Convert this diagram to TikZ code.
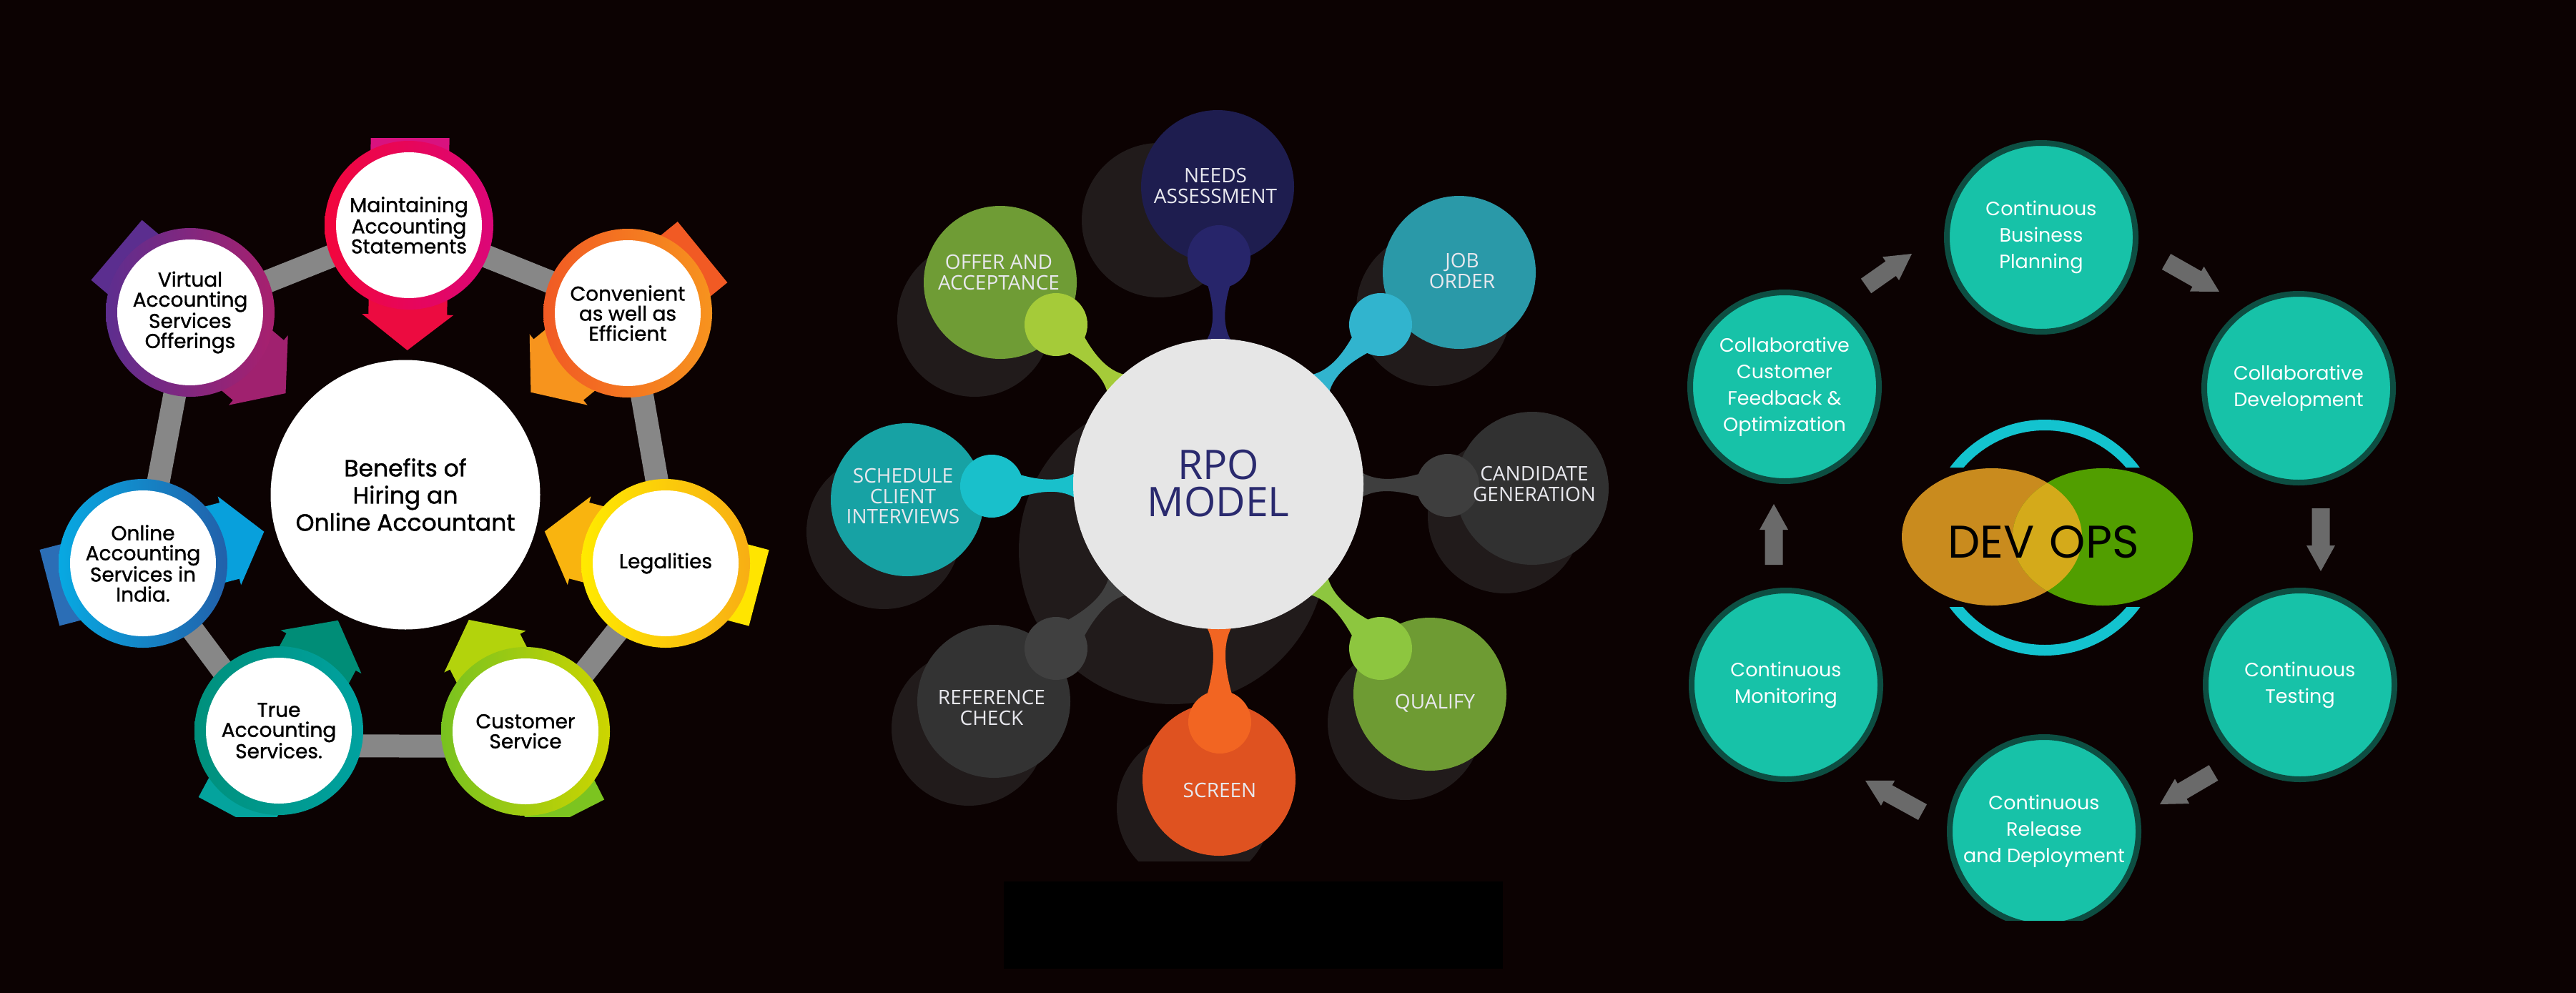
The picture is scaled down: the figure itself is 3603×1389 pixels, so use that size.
\documentclass[tikz,border=0pt]{standalone}
\usepackage{fontspec}
\setmainfont{Poppins}
\newfontfamily\popb{Poppins}[FakeBold=1.2]
\newfontfamily\osans{Open Sans}
\usetikzlibrary{calc,shapes.geometric}

\definecolor{bg}{HTML}{0C0202}
\definecolor{bar}{HTML}{878787}
% left panel colours: ring left/right, arrow tail/head
\definecolor{mL}{HTML}{F2063C}\definecolor{mR}{HTML}{DC0678}\definecolor{mT}{HTML}{D8127F}\definecolor{mH}{HTML}{EC0B40}
\definecolor{cL}{HTML}{F15A24}\definecolor{cR}{HTML}{F7931E}\definecolor{cT}{HTML}{F15A24}\definecolor{cH}{HTML}{F7941D}
\definecolor{lL}{HTML}{FFEA00}\definecolor{lR}{HTML}{F8AE14}\definecolor{lT}{HTML}{FFE500}\definecolor{lH}{HTML}{F9B40F}
\definecolor{sL}{HTML}{78C220}\definecolor{sR}{HTML}{CDD500}\definecolor{sT}{HTML}{7CC420}\definecolor{sH}{HTML}{B3D30C}
\definecolor{tL}{HTML}{00907C}\definecolor{tR}{HTML}{00A2A0}\definecolor{tT}{HTML}{04A39D}\definecolor{tH}{HTML}{008D77}
\definecolor{oL}{HTML}{07A9E2}\definecolor{oR}{HTML}{2260AA}\definecolor{oT}{HTML}{2B6EB6}\definecolor{oH}{HTML}{08A0DC}
\definecolor{vL}{HTML}{5D2E8F}\definecolor{vR}{HTML}{A8206E}\definecolor{vT}{HTML}{5B2E8F}\definecolor{vH}{HTML}{A0216F}
% middle panel
\definecolor{shad}{HTML}{211B1B}
\definecolor{rpogray}{HTML}{E6E6E6}
\definecolor{rponavy}{HTML}{2A2A6E}
\definecolor{rpotext}{HTML}{E8E8EE}
\definecolor{needsS}{HTML}{1E1D4F}\definecolor{needsB}{HTML}{27256A}
\definecolor{jobS}{HTML}{2A99A8}\definecolor{jobB}{HTML}{31B4CE}
\definecolor{candS}{HTML}{313131}\definecolor{candB}{HTML}{3E3E3E}
\definecolor{qualS}{HTML}{6E9B33}\definecolor{qualB}{HTML}{8DC63F}
\definecolor{scrS}{HTML}{DF5220}\definecolor{scrB}{HTML}{F26522}
\definecolor{refS}{HTML}{333333}\definecolor{refB}{HTML}{404040}
\definecolor{schS}{HTML}{17A2A4}\definecolor{schB}{HTML}{19C0CB}
\definecolor{offS}{HTML}{6F9C35}\definecolor{offB}{HTML}{A5CB39}
% right panel
\definecolor{dvfill}{HTML}{17C2A8}
\definecolor{dvline}{HTML}{0D4E42}
\definecolor{arrg}{HTML}{6A6A6A}
\definecolor{ringc}{HTML}{13C3CF}
\definecolor{devo}{HTML}{C98B1E}
\definecolor{devg}{HTML}{519E00}
\definecolor{devy}{HTML}{D4AA1A}

\tikzset{
  benring/.style={circle, minimum size=236pt, inner sep=0pt},
  benwhite/.style={circle, fill=white, minimum size=204pt, inner sep=0pt, align=center,
    text=black, font=\popb\fontsize{28}{28}\selectfont},
  sat/.style={circle, minimum size=214pt, inner sep=0pt},
  sattext/.style={align=center, text=rpotext, font=\osans\fontsize{28}{28.5}\selectfont},
  dvc/.style={circle, draw=dvline, line width=8pt, fill=dvfill, minimum size=264pt,
    inner sep=0pt, align=center, text=white, font=\fontsize{27}{37}\selectfont},
}

% arrow behind a left-panel circle, pointing to M
\newcommand\benarrow[3]{%
  \coordinate (aT) at ($(#1)!-135pt!(M)$);
  \coordinate (aC) at (#1);
  \coordinate (aB) at ($(#1)!125pt!(M)$);
  \coordinate (aP) at ($(#1)!175pt!(M)$);
  \fill[#2] ($(aT)!55pt!90:(M)$) -- ($(aC)!55pt!90:(M)$) -- ($(aC)!55pt!-90:(M)$) -- ($(aT)!55pt!-90:(M)$) -- cycle;
  \fill[#3] ($(aC)!55pt!90:(M)$) -- ($(aB)!55pt!90:(M)$) -- ($(aB)!64pt!90:(M)$) -- (aP)
     -- ($(aB)!64pt!-90:(M)$) -- ($(aB)!55pt!-90:(M)$) -- ($(aC)!55pt!-90:(M)$) -- cycle;
}
\newcommand\benitem[6]{%
  \benarrow{#1}{#4}{#5}
  \node[benring, left color=#2, right color=#3] (#1ring) at (#1) {};
  \node[benwhite] (#1txt) at (#1) {#6};
}
% stem from a blob to the RPO circle
\newcommand\rpostem[2]{%
  \coordinate (pc) at ($(C)!201pt!(#1)$);
  \coordinate (q1) at ($(#1)!0.55!(pc)$);
  \coordinate (q2) at ($(#1)!0.82!(pc)$);
  \fill[#2] ($(#1)!30pt!90:(C)$) .. controls ($(q1)!3pt!90:(C)$) and ($(q2)!5pt!90:(C)$) .. ($(pc)!17pt!-90:(#1)$)
     -- ($(pc)!17pt!90:(#1)$) .. controls ($(q2)!5pt!-90:(C)$) and ($(q1)!3pt!-90:(C)$) .. ($(#1)!30pt!-90:(C)$) -- cycle;
  \fill[#2] (#1) circle (44);
}
% grey block arrow from tail to tip
\newcommand\blockarr[2]{%
  \coordinate (ah) at ($(#2)!36pt!(#1)$);
  \fill[arrg] ($(#1)!12.5pt!90:(#2)$) -- ($(ah)!12.5pt!90:(#2)$) -- ($(ah)!20pt!90:(#2)$) -- (#2)
     -- ($(ah)!20pt!-90:(#2)$) -- ($(ah)!12.5pt!-90:(#2)$) -- ($(#1)!12.5pt!-90:(#2)$) -- cycle;
}

\begin{document}
\begin{tikzpicture}[x=1pt,y=-1pt]
\fill[bg] (0,0) rectangle (3603,1389);
\useasboundingbox (0,0) rectangle (3603,1389);

%%%%%%%%%%%%%%%% LEFT PANEL
\coordinate (M) at (567,692);
\coordinate (b1) at (572,315);
\coordinate (b2) at (878,438);
\coordinate (b3) at (931,788);
\coordinate (b4) at (735,1023);
\coordinate (b5) at (390,1022);
\coordinate (b6) at (200,788);
\coordinate (b7) at (266,437);
\begin{scope}
  \clip (0,193) rectangle (1160,1142);
  \draw[bar, line width=32pt, line join=round] (b1) -- (b2) -- ($(b3)+(8,0)$) -- ($(b4)+(0,21)$)
     -- ($(b5)+(0,21)$) -- (b6) -- (b7) -- cycle;
  \benitem{b1}{mL}{mR}{mT}{mH}{Maintaining\\Accounting\\Statements}
  \benitem{b2}{cL}{cR}{cT}{cH}{Convenient\\as well as\\Efficient}
  \benitem{b3}{lL}{lR}{lT}{lH}{Legalities}
  \benitem{b4}{sL}{sR}{sT}{sH}{Customer\\Service}
  \benitem{b5}{tL}{tR}{tT}{tH}{True\\Accounting\\Services.}
  \benitem{b6}{oL}{oR}{oT}{oH}{Online\\Accounting\\Services in\\India.}
  \benitem{b7}{vL}{vR}{vT}{vH}{Virtual\\Accounting\\Services\\Offerings}
\end{scope}
\node[circle, fill=white, minimum size=377pt, inner sep=0pt, align=center, text=black,
  font=\popb\fontsize{33}{38}\selectfont] (main) at (M) {Benefits of\\Hiring an\\Online Accountant};

%%%%%%%%%%%%%%%% MIDDLE PANEL
\coordinate (C) at (1704,677);
\coordinate (s1) at (1703,261);  \coordinate (k1) at (1705,359);
\coordinate (s2) at (2041,381);  \coordinate (k2) at (1931,454);
\coordinate (s3) at (2143,683);  \coordinate (k3) at (2025,679);
\coordinate (s4) at (2000,971);  \coordinate (k4) at (1931,907);
\coordinate (s5) at (1705,1090); \coordinate (k5) at (1706,1010);
\coordinate (s6) at (1390,981);  \coordinate (k6) at (1477,907);
\coordinate (s7) at (1269,699);  \coordinate (k7) at (1387,680);
\coordinate (s8) at (1399,395);  \coordinate (k8) at (1477,454);
\begin{scope}
  \clip (1100,100) rectangle (2350,1204);
  % shadows
  \fill[shad] (1640,770) circle (215);
  \fill[shad] ($(s1)+(-82,47)$) circle (108);
  \fill[shad] ($(s2)+(-36,51)$) circle (108);
  \fill[shad] ($(s3)+(-38,39)$) circle (108);
  \fill[shad] ($(s4)+(-35,40)$) circle (108);
  \fill[shad] ($(s5)+(-35,40)$) circle (108);
  \fill[shad] ($(s6)+(-35,38)$) circle (108);
  \fill[shad] ($(s7)+(-33,45)$) circle (108);
  \fill[shad] ($(s8)+(-36,52)$) circle (108);
  % satellites
  \node[sat, fill=needsS] (needs) at (s1) {};
  \node[sat, fill=jobS] (job) at (s2) {};
  \node[sat, fill=candS] (cand) at (s3) {};
  \node[sat, fill=qualS] (qual) at (s4) {};
  \node[sat, fill=scrS] (scr) at (s5) {};
  \node[sat, fill=refS] (ref) at (s6) {};
  \node[sat, fill=schS] (sch) at (s7) {};
  \node[sat, fill=offS] (off) at (s8) {};
  % stems and blobs
  \rpostem{k1}{needsB}
  \rpostem{k2}{jobB}
  \rpostem{k3}{candB}
  \rpostem{k4}{qualB}
  \rpostem{k5}{scrB}
  \rpostem{k6}{refB}
  \rpostem{k7}{schB}
  \rpostem{k8}{offB}
  % centre
  \node[circle, fill=rpogray, minimum size=406pt, inner sep=0pt] (rpo) at (C) {};
  \node[align=center, text=rponavy, font=\osans\fontsize{57}{52}\selectfont] (rpotxt) at (1704,676) {RPO\\MODEL};
  % labels
  \node[sattext] (needsT) at (1700,260) {NEEDS\\ASSESSMENT};
  \node[sattext] (jobT) at (2045,379) {JOB\\ORDER};
  \node[sattext] (candT) at (2146,677) {CANDIDATE\\GENERATION};
  \node[sattext] (qualT) at (2007,984) {QUALIFY};
  \node[sattext] (scrT) at (1706,1105) {SCREEN};
  \node[sattext] (refT) at (1387,990) {REFERENCE\\CHECK};
  \node[sattext] (schT) at (1263,694) {SCHEDULE\\CLIENT\\INTERVIEWS};
  \node[sattext] (offT) at (1397,381) {OFFER AND\\ACCEPTANCE};
\end{scope}
\node[fill=black, minimum width=698pt, minimum height=122pt, inner sep=0pt] (blackbar) at (1753,1294) {};

%%%%%%%%%%%%%%%% RIGHT PANEL
\begin{scope}
  \clip (2300,100) rectangle (3603,1287);
  \node[dvc] (d1) at (2855,332) {Continuous\\Business\\Planning};
  \node[dvc] (d2) at (3215,543) {Collaborative\\Development};
  \node[dvc] (d3) at (3217,958) {Continuous\\Testing};
  \node[dvc] (d4) at (2859,1163) {Continuous\\Release\\and Deployment};
  \node[dvc] (d5) at (2498,958) {Continuous\\Monitoring};
  \node[dvc] (d6) at (2496,541) {Collaborative\\Customer\\Feedback \&\\Optimization};
\end{scope}
% arrows
\coordinate (a1t) at (2610,400); \coordinate (a1h) at (2674,355);
\coordinate (a2t) at (3030,366); \coordinate (a2h) at (3104,408);
\coordinate (a3t) at (3246,711); \coordinate (a3h) at (3246,799);
\coordinate (a4t) at (3096,1081); \coordinate (a4h) at (3021,1125);
\coordinate (a5t) at (2689,1136); \coordinate (a5h) at (2609,1092);
\coordinate (a6t) at (2481,790); \coordinate (a6h) at (2481,705);
\blockarr{a1t}{a1h}
\blockarr{a2t}{a2h}
\blockarr{a3t}{a3h}
\blockarr{a4t}{a4h}
\blockarr{a5t}{a5h}
\blockarr{a6t}{a6h}
% centre ring and ellipses
\coordinate (DC) at (2860,752);
\begin{scope}
  \clip (2600,480) rectangle (3120,654) (2600,849) rectangle (3120,1000);
  \draw[ringc, line width=15pt] (DC) circle (157.5);
\end{scope}
\node[ellipse, fill=devo, minimum width=252pt, minimum height=192pt, inner sep=0pt] (dev) at (2786,751) {};
\node[ellipse, fill=devg, minimum width=252pt, minimum height=192pt, inner sep=0pt] (ops) at (2941,751) {};
\begin{scope}
  \clip (2786,751) ellipse [x radius=126, y radius=96];
  \fill[devy] (2941,751) ellipse [x radius=126, y radius=96];
\end{scope}
\node[text=black, font=\fontsize{64}{64}\selectfont] (devops) at (2858,758) {DEV\,\,OPS};
\end{tikzpicture}
\end{document}
